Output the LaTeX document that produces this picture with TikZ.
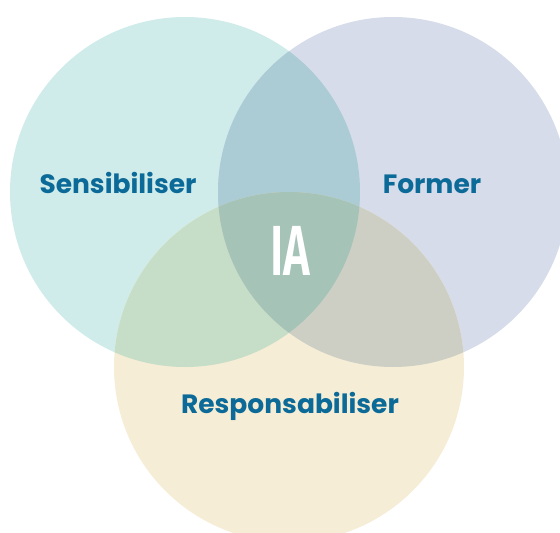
\documentclass[tikz,border=0pt]{standalone}
\usepackage{fontspec}
\setmainfont{Poppins}
\newfontfamily\labelfont{Poppins}[UprightFont=* Bold]
\newfontfamily\iafont{Fira Sans}[UprightFont=* SemiBold]
\definecolor{cA}{HTML}{CFECEA}
\definecolor{cB}{HTML}{D6DCEA}
\definecolor{cC}{HTML}{F5EDD6}
\definecolor{cAB}{HTML}{ABCBD5}
\definecolor{cAC}{HTML}{C6DEC7}
\definecolor{cBC}{HTML}{CDCFC5}
\definecolor{cABC}{HTML}{A6C3B8}
\definecolor{txt}{HTML}{0B6A97}
\tikzset{
  lbl/.style={text=txt, font=\labelfont\fontsize{26.5}{30}\selectfont, inner sep=0pt, anchor=base},
  ialbl/.style={text=white, font=\iafont\fontsize{71}{71}\selectfont, inner sep=0pt, xscale=0.64, anchor=base}
}
\begin{document}
\begin{tikzpicture}[x=1pt,y=-1pt]
\useasboundingbox (0,0) rectangle (560,533);
\begin{scope}
\clip (0,0) rectangle (560,533);
\def\circA{(185,192) circle[radius=175]}
\def\circB{(393,192) circle[radius=175]}
\def\circC{(289,367) circle[radius=175]}
\fill[cA] \circA;
\fill[cB] \circB;
\fill[cC] \circC;
\begin{scope}\clip \circA; \fill[cAB] \circB; \end{scope}
\begin{scope}\clip \circA; \fill[cAC] \circC; \end{scope}
\begin{scope}\clip \circB; \fill[cBC] \circC; \end{scope}
\begin{scope}\clip \circA; \clip \circB; \fill[cABC] \circC; \end{scope}
\end{scope}
\node[lbl] (sens) at (118,193) {Sensibiliser};
\node[lbl] (form) at (432,193) {Former};
\node[lbl] (resp) at (290,413) {Responsabiliser};
\node[ialbl] (ia) at (290,275) {IA};
\end{tikzpicture}
\end{document}
